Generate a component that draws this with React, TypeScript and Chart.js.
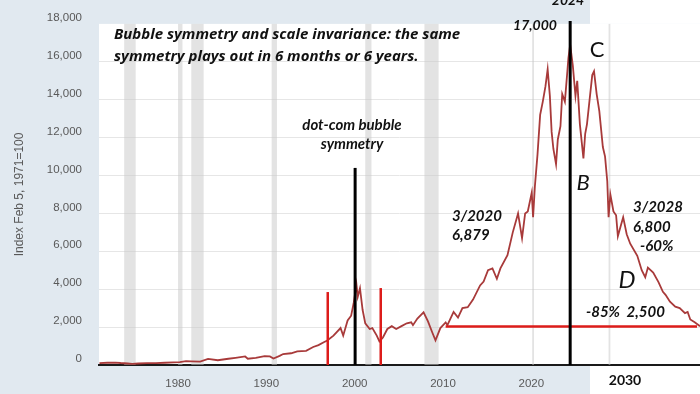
import React, { useEffect, useRef } from "react";
import { Chart, registerables } from "chart.js";

Chart.register(...registerables);

// Weekly-ish index values (decimal years)
const years = [
  1971.1, 1972.0, 1972.9, 1973.5, 1974.3, 1974.8, 1975.5, 1976.5, 1977.5, 1978.5, 1979.5,
  1980.2, 1980.9, 1981.5, 1982.5, 1983.4, 1984.5, 1985.7, 1986.5, 1987.6, 1987.9, 1988.8,
  1989.8, 1990.4, 1990.8, 1991.5, 1991.9, 1992.8, 1993.5, 1994.5, 1995.3, 1995.9, 1996.5,
  1996.9, 1997.6, 1998.4, 1998.7, 1999.2, 1999.6, 1999.9, 2000.2, 2000.35, 2000.6, 2000.9,
  2001.2, 2001.7, 2002.0, 2002.5, 2002.8, 2003.2, 2003.7, 2004.2, 2004.7, 2005.3, 2005.9,
  2006.4, 2006.6, 2007.1, 2007.8, 2008.3, 2008.8, 2009.15, 2009.7, 2010.3, 2010.5, 2011.2,
  2011.7, 2012.2, 2012.8, 2013.4, 2014.2, 2014.6, 2015.1, 2015.6, 2016.1, 2016.5, 2017.3,
  2017.9, 2018.5, 2018.95, 2019.3, 2019.6, 2020.05, 2020.2, 2020.4, 2020.7, 2021.0, 2021.3,
  2021.6, 2021.85, 2022.1, 2022.3, 2022.5, 2022.8, 2023.0, 2023.3, 2023.5, 2023.8, 2024.1,
  2024.2, 2024.4, 2024.7, 2025.0, 2025.2, 2025.5, 2025.9, 2026.1, 2026.3, 2026.6, 2026.9,
  2027.1, 2027.4, 2027.7, 2028.1, 2028.35, 2028.6, 2028.75, 2028.95, 2029.3, 2029.6, 2029.8,
  2030.1, 2030.4, 2030.8, 2031.2, 2032.0, 2032.5, 2032.9, 2033.2, 2033.8, 2034.4, 2034.9,
  2035.2, 2035.7, 2036.3, 2036.8, 2037.4, 2037.7, 2038.0, 2038.5, 2038.8, 2039.1,
];
const values = [
  100, 120, 130, 105, 80, 60, 80, 95, 100, 120, 140,
  150, 200, 195, 175, 320, 250, 330, 380, 450, 330, 380,
  470, 450, 340, 480, 580, 620, 720, 750, 950, 1050, 1200,
  1290, 1550, 1950, 1550, 2350, 2600, 3300, 4250, 3600, 4050, 2900,
  2200, 1900, 1950, 1550, 1250, 1450, 1900, 2050, 1900, 2050, 2200,
  2250, 2100, 2450, 2780, 2300, 1700, 1300, 1950, 2250, 2100, 2800,
  2500, 3000, 3050, 3450, 4200, 4400, 5000, 5100, 4550, 5100, 5800,
  7000, 8000, 6700, 8000, 8100, 9100, 7800, 9400, 11100, 13200, 13900,
  14700, 15600, 14200, 12300, 11400, 10600, 11900, 12600, 14300, 13900, 15600,
  16200, 16900, 15800, 14200, 15000, 12700, 10900, 12200, 12700, 14000, 15300,
  15500, 14300, 13400, 11500, 11000, 9700, 7800, 9000, 8100, 7900, 6800,
  7300, 7800, 6900, 6400, 5760, 5000, 4630, 5140, 4880, 4370, 3860,
  3700, 3340, 3080, 3000, 2740, 2800, 2400, 2250, 2150, 2050,
];

const recessionStarts = [1973.9, 1980.0, 1981.5, 1990.6, 2001.2, 2007.9, 2020.1, 2028.75];
const recessionEnds = [1975.2, 1980.5, 1982.9, 1991.2, 2001.9, 2009.5, 2020.3, 2028.95];

const xTickYears = [1980, 1990, 2000, 2010, 2020];
const yTicks = [0, 2000, 4000, 6000, 8000, 10000, 12000, 14000, 16000, 18000];

// annotation marks (year, value)
const blackLineYears = [2000.05, 2024.4];
const blackLineTops = [10400, 18150];
const redLineYears = [1996.95, 2002.95];
const redLineTops = [3850, 4060];
const redFloorValue = 2030;
const redFloorStart = 2010.3;

const X_MIN = 1971.05;
const X_MAX = 2039.1;

const BG = "#e1e9f0";
const TEXT_FONT = "Lato, 'Open Sans', sans-serif";
const TITLE_FONT = "'Open Sans', Lato, sans-serif";

const decorPlugin = {
  id: "decor",
  beforeDraw(chart: any) {
    const { ctx, chartArea, width, height } = chart;
    ctx.save();
    ctx.fillStyle = BG;
    ctx.fillRect(0, 0, width, height);
    ctx.fillStyle = "#ffffff";
    ctx.fillRect(590, 0, width - 590, chartArea.top);
    ctx.fillRect(590, chartArea.bottom, width - 590, height - chartArea.bottom);
    ctx.fillRect(chartArea.left, chartArea.top, chartArea.right - chartArea.left, chartArea.bottom - chartArea.top);
    ctx.restore();
  },
  beforeDatasetsDraw(chart: any) {
    const { ctx, chartArea } = chart;
    const xs = chart.scales.x;
    ctx.save();
    ctx.fillStyle = "rgba(200,200,200,0.5)";
    for (let i = 0; i < recessionStarts.length; i++) {
      const a = xs.getPixelForValue(recessionStarts[i]);
      const b = xs.getPixelForValue(recessionEnds[i]);
      ctx.fillRect(a, chartArea.top, Math.max(1.5, b - a), chartArea.bottom - chartArea.top);
    }
    ctx.restore();
  },
  afterDatasetsDraw(chart: any) {
    const { ctx, chartArea } = chart;
    const xs = chart.scales.x;
    const ys = chart.scales.y;
    ctx.save();
    // red lines
    ctx.strokeStyle = "#dd1c1a";
    ctx.lineWidth = 2.5;
    for (let i = 0; i < redLineYears.length; i++) {
      const x = xs.getPixelForValue(redLineYears[i]);
      ctx.beginPath();
      ctx.moveTo(x, ys.getPixelForValue(0));
      ctx.lineTo(x, ys.getPixelForValue(redLineTops[i]));
      ctx.stroke();
    }
    const fy = ys.getPixelForValue(redFloorValue);
    ctx.beginPath();
    ctx.moveTo(xs.getPixelForValue(redFloorStart), fy);
    ctx.lineTo(chartArea.right - 3, fy);
    ctx.stroke();
    // black lines
    ctx.strokeStyle = "#000000";
    ctx.lineWidth = 3;
    for (let i = 0; i < blackLineYears.length; i++) {
      const x = xs.getPixelForValue(blackLineYears[i]);
      ctx.beginPath();
      ctx.moveTo(x, ys.getPixelForValue(0));
      ctx.lineTo(x, ys.getPixelForValue(blackLineTops[i]));
      ctx.stroke();
    }
    ctx.restore();
  },
  afterDraw(chart: any) {
    const { ctx } = chart;
    ctx.save();
    ctx.fillStyle = "#111111";
    ctx.textBaseline = "middle";
    const put = (t: string, x: number, y: number, font: string, align: CanvasTextAlign = "left") => {
      ctx.font = font;
      ctx.textAlign = align;
      ctx.fillText(t, x, y);
    };
    const bi = (s: number) => `italic bold ${s}px ${TEXT_FONT}`;
    put("Bubble symmetry and scale invariance: the same", 114, 35, `italic bold 15px ${TITLE_FONT}`);
    put("symmetry plays out in 6 months or 6 years.", 114, 57, `italic bold 15px ${TITLE_FONT}`);
    put("dot-com bubble", 352, 125, bi(15), "center");
    put("symmetry", 352, 144, bi(15), "center");
    put("17,000", 535, 25, bi(14), "center");
    ctx.textBaseline = "alphabetic";
    put("2024", 568, 5, bi(14), "center");
    ctx.textBaseline = "middle";
    put("C", 597, 50, `22px ${TEXT_FONT}`, "center");
    put("B", 583, 183, `italic 22px ${TEXT_FONT}`, "center");
    put("3/2020", 452, 216, bi(15));
    put("6,879", 452, 235, bi(15));
    put("3/2028", 633, 207, bi(15));
    put("6,800", 633, 227, bi(15));
    put("-60%", 640, 246, bi(15));
    put("D", 627, 280, `italic 24px ${TEXT_FONT}`, "center");
    put("-85%  2,500", 586, 312, bi(15));
    put("2030", 625, 380, `bold 14px ${TEXT_FONT}`, "center");
    ctx.restore();
  },
};

export default function App() {
  const ref = useRef<HTMLCanvasElement>(null);
  useEffect(() => {
    const points = years.map((x, i) => ({ x, y: values[i] }));
    const chart = new Chart(ref.current as HTMLCanvasElement, {
      type: "line",
      data: {
        datasets: [
          {
            data: points,
            borderColor: "#a83a3a",
            borderWidth: 1.8,
            pointRadius: 0,
            tension: 0,
          },
        ],
      },
      options: {
        animation: false,
        responsive: false,
        devicePixelRatio: 1,
        layout: { padding: { top: 15, right: 0, left: 0, bottom: 0 } },
        plugins: { legend: { display: false }, tooltip: { enabled: false } },
        scales: {
          x: {
            type: "linear",
            min: X_MIN,
            max: X_MAX,
            afterBuildTicks: (s: any) => {
              s.ticks = xTickYears.map((v) => ({ value: v }));
            },
            afterFit: (s: any) => {
              s.height = 29;
            },
            grid: { display: false, drawTicks: false },
            border: { display: true, color: "#1a1a1a", width: 2 },
            ticks: {
              padding: 12,
              color: "#595959",
              font: { family: "'Liberation Sans', Arial, sans-serif", size: 11.5 },
              maxRotation: 0,
              autoSkip: false,
              callback: (v: any) => String(v),
            },
          },
          y: {
            min: 0,
            max: 18000,
            afterBuildTicks: (s: any) => {
              s.ticks = yTicks.map((v) => ({ value: v }));
            },
            afterFit: (s: any) => {
              s.width = 99;
            },
            grid: {
              drawTicks: false,
              color: (c: any) =>
                c.tick && (c.tick.value === 0 || c.tick.value === 18000) ? "rgba(0,0,0,0)" : "#e6e6e6",
              lineWidth: 1,
            },
            border: { display: false },
            ticks: {
              padding: 17,
              labelOffset: -6,
              color: "#595959",
              font: { family: "'Liberation Sans', Arial, sans-serif", size: 11.5 },
              callback: (v: any) => Number(v).toLocaleString("en-US"),
            },
            title: {
              display: true,
              text: "Index Feb 5, 1971=100",
              color: "#595959",
              font: { family: "'Liberation Sans', Arial, sans-serif", size: 12 },
              padding: { top: 12, bottom: 0 },
            },
          },
        },
      },
      plugins: [decorPlugin],
    });
    return () => chart.destroy();
  }, []);
  return (
    <div style={{ position: "fixed", left: 0, top: 0, width: 700, height: 394 }}>
      <canvas ref={ref} width={700} height={394} style={{ display: "block", width: 700, height: 394 }} />
    </div>
  );
}
